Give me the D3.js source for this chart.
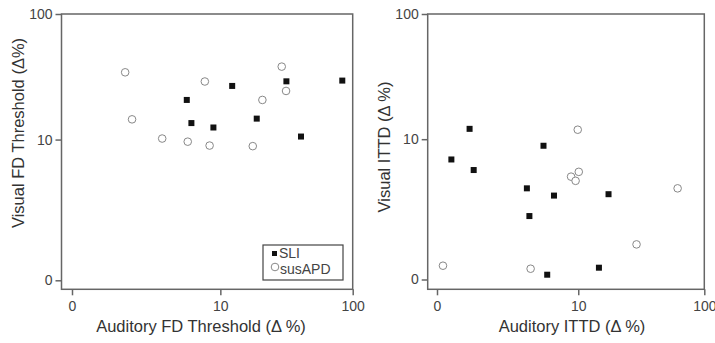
<!DOCTYPE html>
<html lang="en">
<head>
<meta charset="UTF-8">
<title>Visual vs auditory thresholds</title>
<script src="https://d3js.org/d3.v7.min.js"></script>
<style>
  body { margin: 0; background: #fff; }
  svg { display: block; font-family: "Liberation Sans", Arial, sans-serif; }
  .tick text { fill: #444; font-size: 14px; }
  .title { fill: #333; font-size: 16.5px; }
</style>
</head>
<body>
<svg width="715" height="343"></svg>
<script>
// values (Δ %)
const tickValues = [0, 10, 100];

// left panel: frequency discrimination
const fdSliX = [5.3, 5.8, 8.8, 12.4, 19.2, 32.2, 41.4, 83.8];
const fdSliY = [21.1, 13.7, 12.6, 27.3, 14.9, 29.7, 10.6, 30.1];
const fdApdX = [1.3, 1.57, 3.2, 5.4, 7.5, 8.2, 17.9, 21.2, 29.7, 32.0];
const fdApdY = [35.0, 14.7, 10.2, 9.6, 29.6, 8.9, 8.8, 21.1, 38.8, 24.9];

// right panel: inter-temporal threshold difference
const ittdSliX = [0.26, 0.70, 0.82, 3.5, 3.7, 5.0, 6.2, 5.4, 14.8, 17.7];
const ittdSliY = [6.7, 12.2, 5.4, 3.65, 1.88, 8.8, 3.1, 0.08, 0.21, 3.2];
const ittdApdX = [0.10, 3.8, 8.7, 9.5, 10.1, 9.9, 29.6, 62.1];
const ittdApdY = [0.25, 0.19, 4.7, 4.3, 5.2, 12.0, 0.78, 3.65];

const svg = d3.select("svg");
const frameColor = "#666";

function panel(opt) {
  const g = svg.append("g");

  // symlog keeps 0 on the axis, like the original log(x + c) axes
  const x = d3.scaleSymlog().constant(0.9).domain([0, 100]).range([opt.x0, opt.x1]);
  const y = d3.scaleSymlog().constant(0.9).domain([0, 100]).range([opt.y0, opt.y1]);

  // frame (padded a bit below and left of zero)
  g.append("rect")
    .attr("x", opt.left).attr("y", opt.y1)
    .attr("width", opt.x1 - opt.left).attr("height", opt.bottom - opt.y1)
    .attr("fill", "none").attr("stroke", frameColor).attr("stroke-width", 1.5);

  const xAxis = g.append("g")
    .attr("transform", `translate(0,${opt.bottom})`)
    .call(d3.axisBottom(x).tickValues(tickValues).tickSize(6).tickPadding(6).tickFormat(d3.format("d")));
  const yAxis = g.append("g")
    .attr("transform", `translate(${opt.left},0)`)
    .call(d3.axisLeft(y).tickValues(tickValues).tickSize(6).tickPadding(3).tickFormat(d3.format("d")));
  [xAxis, yAxis].forEach(a => {
    a.select(".domain").remove();
    a.selectAll(".tick line").attr("stroke", frameColor).attr("stroke-width", 1.5);
  });

  // susAPD: open circles
  g.selectAll("circle.apd")
    .data(d3.zip(opt.apdX, opt.apdY))
    .join("circle")
    .attr("class", "apd")
    .attr("cx", d => x(d[0])).attr("cy", d => y(d[1]))
    .attr("r", 3.8)
    .attr("fill", "#fff").attr("stroke", "#888").attr("stroke-width", 1);

  // SLI: filled squares
  g.selectAll("rect.sli")
    .data(d3.zip(opt.sliX, opt.sliY))
    .join("rect")
    .attr("class", "sli")
    .attr("x", d => x(d[0]) - 3).attr("y", d => y(d[1]) - 3)
    .attr("width", 6).attr("height", 6)
    .attr("fill", "#111");

  g.append("text").attr("class", "title")
    .attr("x", opt.xTitleX).attr("y", 332)
    .attr("text-anchor", "middle")
    .text(opt.xTitle);
  g.append("text").attr("class", "title")
    .attr("transform", `translate(${opt.yTitleX},${opt.yTitleY}) rotate(-90)`)
    .attr("text-anchor", "middle")
    .text(opt.yTitle);

  return g;
}

const left = panel({
  left: 61.5, bottom: 289.3, x0: 72, x1: 352.7, y0: 280.3, y1: 14,
  sliX: fdSliX, sliY: fdSliY, apdX: fdApdX, apdY: fdApdY,
  xTitle: "Auditory FD Threshold (\u0394 %)", xTitleX: 201,
  yTitle: "Visual FD Threshold (\u0394%)", yTitleX: 24, yTitleY: 133
});

panel({
  left: 427.7, bottom: 289.3, x0: 437, x1: 704.3, y0: 279.5, y1: 14,
  sliX: ittdSliX, sliY: ittdSliY, apdX: ittdApdX, apdY: ittdApdY,
  xTitle: "Auditory ITTD (\u0394 %)", xTitleX: 572,
  yTitle: "Visual ITTD (\u0394 %)", yTitleX: 390, yTitleY: 147
});

// legend in the left panel
const legend = left.append("g").attr("transform", "translate(263,245)");
legend.append("rect")
  .attr("width", 80).attr("height", 35)
  .attr("fill", "#fff").attr("stroke", "#444").attr("stroke-width", 1.2);
legend.append("rect").attr("x", 9).attr("y", 6).attr("width", 5).attr("height", 5).attr("fill", "#111");
legend.append("circle").attr("cx", 12).attr("cy", 22).attr("r", 3.8)
  .attr("fill", "#fff").attr("stroke", "#888");
legend.append("text").attr("x", 16).attr("y", 13).attr("fill", "#444").attr("font-size", 14).text("SLI");
legend.append("text").attr("x", 17).attr("y", 28.5).attr("fill", "#444").attr("font-size", 14).text("susAPD");
</script>
</body>
</html>
